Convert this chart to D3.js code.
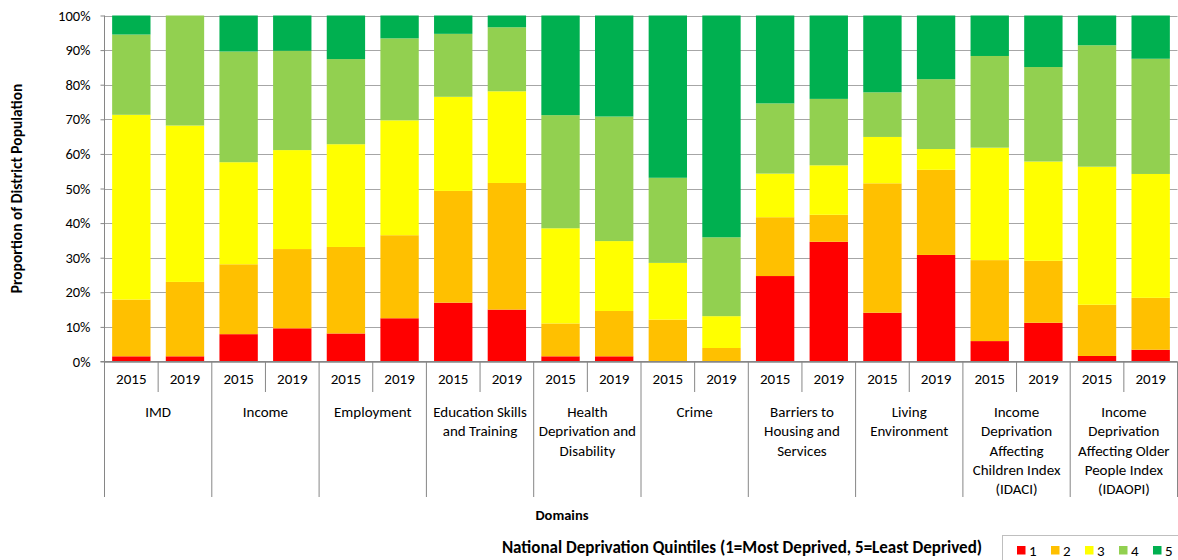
<!DOCTYPE html>
<html>
<head>
<meta charset="utf-8">
<script src="https://cdn.jsdelivr.net/npm/d3@7"></script>
<style>
  html, body { margin: 0; padding: 0; background: #fff; }
  svg { display: block; font-family: Carlito, Calibri, Lato, "Open Sans", sans-serif; }
</style>
</head>
<body>
<svg id="chart" width="1178" height="560"></svg>
<script>
// ---- data ----
const domains = ["IMD", "Income", "Employment", "Education Skills and Training",
  "Health Deprivation and Disability", "Crime", "Barriers to Housing and Services",
  "Living Environment", "Income Deprivation Affecting Children Index (IDACI)",
  "Income Deprivation Affecting Older People Index (IDAOPI)"];
const domainLines = [["IMD"], ["Income"], ["Employment"], ["Education Skills", "and Training"],
  ["Health", "Deprivation and", "Disability"], ["Crime"], ["Barriers to", "Housing and", "Services"],
  ["Living", "Environment"], ["Income", "Deprivation", "Affecting", "Children Index", "(IDACI)"],
  ["Income", "Deprivation", "Affecting Older", "People Index", "(IDAOPI)"]];
const years = ["2015", "2019"];
const quintiles = ["1", "2", "3", "4", "5"];
const q1 = [1.5, 1.5, 7.9, 9.6, 8.1, 12.5, 17.0, 15.0, 1.5, 1.5, 0, 0, 24.7, 34.6, 14.1, 30.8, 5.9, 11.2, 1.6, 3.4];
const q2 = [16.4, 21.5, 20.2, 22.9, 25.0, 24.0, 32.3, 36.6, 9.5, 13.1, 12.1, 3.9, 17.0, 7.8, 37.4, 24.6, 23.4, 17.9, 14.8, 15.0];
const q3 = [53.4, 45.2, 29.5, 28.6, 29.7, 33.2, 27.2, 26.5, 27.5, 20.2, 16.4, 9.2, 12.6, 14.3, 13.4, 6.0, 32.5, 28.7, 39.9, 35.8];
const q4 = [23.2, 31.8, 32.0, 28.7, 24.6, 23.7, 18.2, 18.5, 32.7, 36.0, 24.6, 22.8, 20.3, 19.2, 12.9, 20.2, 26.5, 27.3, 35.1, 33.3];
const q5 = [5.5, 0, 10.4, 10.2, 12.6, 6.6, 5.3, 3.4, 28.8, 29.2, 46.9, 64.1, 25.4, 24.1, 22.2, 18.4, 11.7, 14.9, 8.6, 12.5];
const yTicks = [0, 10, 20, 30, 40, 50, 60, 70, 80, 90, 100];
const colors = ["#FF0000", "#FFC000", "#FFFF00", "#92D050", "#00B050"];

// ---- build table ----
const series = [q1, q2, q3, q4, q5];
const rows = [];
domains.forEach((d, i) => {
  years.forEach((yr, j) => {
    const k = i * 2 + j;
    const r = { key: d + "|" + yr, domain: d, year: yr };
    const tot = series.reduce((s, a) => s + a[k], 0);
    quintiles.forEach((q, qi) => { r[q] = series[qi][k] / tot * 100; });
    rows.push(r);
  });
});

const svg = d3.select("#chart");
const pLeft = 104.5, pRight = 1177.5, pTop = 15.5, pBottom = 361.5;
const FONT = "Carlito, Calibri, Lato, sans-serif";

const x = d3.scaleBand().domain(rows.map(r => r.key)).range([pLeft, pRight])
  .paddingInner(0.285).paddingOuter(0.1425);
const xg = d3.scaleBand().domain(domains).range([pLeft, pRight]);
const y = d3.scaleLinear().domain([0, 100]).range([pBottom, pTop]);

// gridlines
svg.append("g").selectAll("line").data(yTicks).join("line")
  .attr("x1", pLeft).attr("x2", pRight)
  .attr("y1", d => Math.round(y(d)) + 0.5).attr("y2", d => Math.round(y(d)) + 0.5)
  .attr("stroke", "#A6A6A6").attr("stroke-width", 1);

// bars
const stack = d3.stack().keys(quintiles)(rows);
svg.append("g").selectAll("g").data(stack).join("g")
  .attr("fill", (d, i) => colors[i])
  .selectAll("rect").data(d => d).join("rect")
  .attr("x", d => x(d.data.key))
  .attr("width", x.bandwidth())
  .attr("y", d => y(d[1]))
  .attr("height", d => Math.max(0, y(d[0]) - y(d[1])));

// y axis
const yAxis = d3.axisLeft(y).tickValues(yTicks).tickFormat(d => d + "%").tickSize(4).tickPadding(10);
const ya = svg.append("g").attr("transform", `translate(${pLeft},0)`).call(yAxis);
ya.select(".domain").attr("stroke", "#868686").attr("d", `M0,${pTop}V${pBottom}`);
ya.selectAll(".tick line").attr("stroke", "#868686");
ya.selectAll(".tick text").attr("font-size", 14.5).attr("fill", "#000").attr("font-family", FONT);

// x axis line
svg.append("line").attr("x1", pLeft - 4).attr("x2", pRight).attr("y1", pBottom).attr("y2", pBottom)
  .attr("stroke", "#868686");

// year labels via axis
const xAxis = d3.axisBottom(x).tickFormat(k => k.split("|")[1]).tickSize(0).tickPadding(12);
const xa = svg.append("g").attr("transform", `translate(0,${pBottom})`).call(xAxis);
xa.select(".domain").remove();
xa.selectAll(".tick text").attr("font-size", 15).attr("fill", "#000").attr("font-family", FONT);

// year separators (middle of each group)
svg.append("g").selectAll("line").data(domains).join("line")
  .attr("x1", d => xg(d) + xg.bandwidth() / 2).attr("x2", d => xg(d) + xg.bandwidth() / 2)
  .attr("y1", pBottom).attr("y2", 392).attr("stroke", "#868686");

// group separators
const bounds = domains.map(d => xg(d)).concat([pRight]);
svg.append("g").selectAll("line").data(bounds).join("line")
  .attr("x1", d => d).attr("x2", d => d)
  .attr("y1", pBottom).attr("y2", 497).attr("stroke", "#868686");

// domain labels
const dl = svg.append("g").selectAll("text").data(domains).join("text")
  .attr("x", d => xg(d) + xg.bandwidth() / 2)
  .attr("y", 417)
  .attr("text-anchor", "middle").attr("font-size", 15).attr("fill", "#000");
dl.each(function (d, i) {
  const t = d3.select(this);
  domainLines[i].forEach((ln, li) => {
    t.append("tspan").attr("x", xg(d) + xg.bandwidth() / 2).attr("dy", li === 0 ? 0 : 19.3).text(ln);
  });
});

// axis titles
svg.append("text").attr("x", 562).attr("y", 520).attr("text-anchor", "middle")
  .attr("font-size", 14.5).attr("font-weight", "bold").text("Domains");
svg.append("text").attr("transform", `translate(22,${(pTop + pBottom) / 2}) rotate(-90)`)
  .attr("text-anchor", "middle").attr("font-size", 15.5).attr("font-weight", "bold")
  .text("Proportion of District Population");
svg.append("text").attr("x", 742).attr("y", 553).attr("text-anchor", "middle")
  .attr("font-size", 17).attr("font-weight", "bold")
  .text("National Deprivation Quintiles (1=Most Deprived, 5=Least Deprived)");

// legend
const lg = svg.append("g");
lg.append("rect").attr("x", 1002.5).attr("y", 535.5).attr("width", 185).attr("height", 30)
  .attr("fill", "#fff").attr("stroke", "#BFBFBF");
const li = lg.selectAll("g").data(quintiles).join("g")
  .attr("transform", (d, i) => `translate(${1017 + i * 34},0)`);
li.append("rect").attr("x", 0).attr("y", 546).attr("width", 8.5).attr("height", 8.5)
  .attr("fill", (d, i) => colors[i]);
li.append("text").attr("x", 12).attr("y", 555.5).attr("font-size", 15).text(d => d);
</script>
</body>
</html>
